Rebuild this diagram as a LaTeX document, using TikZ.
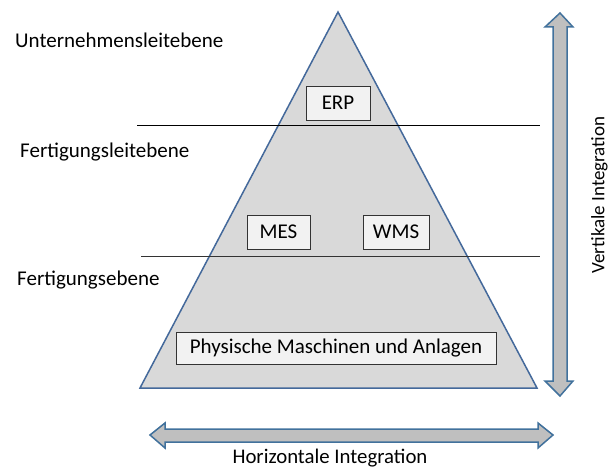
\documentclass[tikz,border=0pt]{standalone}
\usepackage{fontspec}
\setmainfont{Carlito}
\definecolor{pyrfill}{HTML}{D9D9D9}
\definecolor{pyrline}{HTML}{44699B}
\definecolor{arrfill}{HTML}{BFBFBF}
\definecolor{arrline}{HTML}{41719C}
\definecolor{boxfill}{HTML}{F2F2F2}
\begin{document}
\begin{tikzpicture}[x=1pt,y=-1pt,
  txt/.style={font=\fontsize{21}{25}\selectfont},
  sysbox/.style={txt,draw=black!80,fill=boxfill,line width=0.9pt,inner sep=0pt},
  lvl/.style={txt,anchor=base west,inner sep=0pt},
  arr/.style={draw=arrline,fill=arrfill,line width=1.5pt,line join=miter}]
\useasboundingbox (0,0) rectangle (611,468);
% pyramid
\draw[fill=pyrfill,draw=pyrline,line width=1.5pt,line join=miter] (338,12) -- (537,388) -- (140,388) -- cycle;
\draw[black,line width=1pt] (137,126) -- (540,126);
\draw[black!80,line width=1pt] (141,256) -- (540,256);
% boxes
\node[sysbox,minimum width=64pt,minimum height=34pt] (erp) at (338,103) {ERP};
\node[sysbox,minimum width=63pt,minimum height=34pt] (mes) at (278.5,232) {MES};
\node[sysbox,minimum width=66pt,minimum height=34pt] (wms) at (396,232) {WMS};
\node[sysbox,minimum width=320pt,minimum height=32pt] (phy) at (336,348) {Physische Maschinen und Anlagen};
% level labels
\node[lvl] (l1) at (15,47.5) {Unternehmensleitebene};
\node[lvl] (l2) at (20,157.5) {Fertigungsleitebene};
\node[lvl] (l3) at (17,285.5) {Fertigungsebene};
% vertical arrow
\draw[arr] (560,13) -- (573,27) -- (567,27) -- (567,381) -- (573,381) -- (560,396) -- (545,381) -- (553,381) -- (553,27) -- (545,27) -- cycle;
\node[rotate=90,inner sep=0pt,font=\fontsize{19}{22}\selectfont] (vi) at (599.5,195) {Vertikale Integration};
% horizontal arrow
\draw[arr] (150,435) -- (165,423) -- (165,429) -- (538,429) -- (538,423) -- (553,435) -- (538,448) -- (538,442) -- (165,442) -- (165,448) -- cycle;
\node[anchor=base,inner sep=0pt,font=\fontsize{20.8}{24}\selectfont] (hi) at (330,463) {Horizontale Integration};
\end{tikzpicture}
\end{document}
